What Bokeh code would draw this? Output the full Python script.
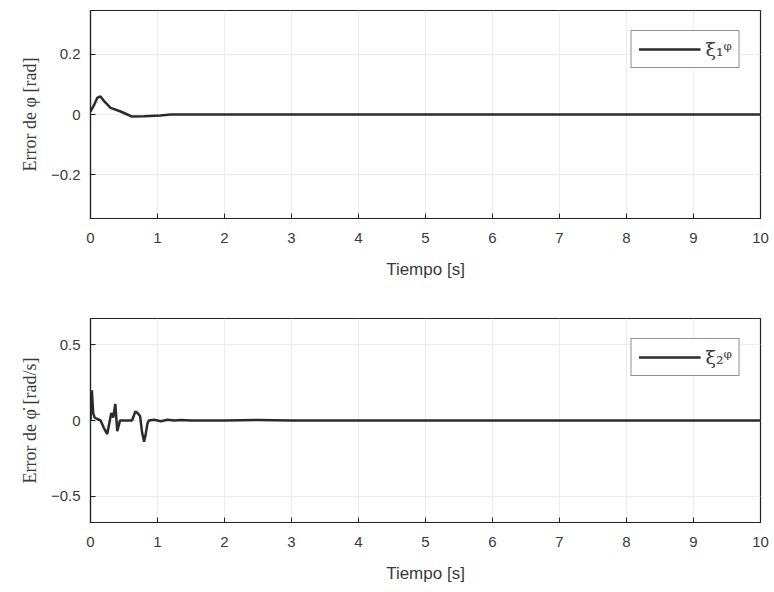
from bokeh.plotting import figure
from bokeh.layouts import column
from bokeh.models import FixedTicker, Legend, LegendItem, Range1d
from bokeh.embed import file_html
from bokeh.resources import INLINE

# ---- data ----
t1 = [0.0, 0.05, 0.1, 0.15, 0.2, 0.3, 0.45, 0.55, 0.62, 0.8, 1.04, 1.2, 2.0, 4.0, 6.0, 8.0, 10.0]
e1 = [0.01, 0.03, 0.055, 0.06, 0.045, 0.022, 0.01, 0.0, -0.007, -0.006, -0.003, 0.0, 0.0, 0.0, 0.0, 0.0, 0.0]

t2 = [0.0, 0.02, 0.04, 0.06, 0.1, 0.15, 0.2, 0.25, 0.28, 0.31, 0.34, 0.37, 0.4, 0.44, 0.47, 0.55, 0.62,
      0.67, 0.7, 0.74, 0.77, 0.8, 0.82, 0.85, 0.87, 0.95, 1.05, 1.15, 1.25, 1.35, 1.5, 2.0, 2.5, 3.0, 5.0, 10.0]
e2 = [0.0, 0.2, 0.05, 0.02, 0.01, 0.0, -0.05, -0.09, -0.02, 0.05, 0.02, 0.11, -0.07, 0.0, 0.0, 0.0, 0.0,
      0.06, 0.05, 0.03, -0.08, -0.14, -0.1, -0.02, 0.0, 0.005, -0.005, 0.005, 0.0, 0.004, 0.0, 0.0, 0.004, 0.0, 0.0, 0.0]

x_ticks = [0, 1, 2, 3, 4, 5, 6, 7, 8, 9, 10]
y1_ticks = [-0.2, 0, 0.2]
y2_ticks = [-0.5, 0, 0.5]

LINE = "#2b2b2b"
TXT = "#3a3a3a"
AX = "#222222"


def style_axis(ax):
    ax.major_tick_in = 5
    ax.major_tick_out = 0
    ax.minor_tick_line_color = None
    ax.axis_line_color = AX
    ax.axis_line_width = 1.2
    ax.major_tick_line_color = AX
    ax.major_label_text_font = "Liberation Sans"
    ax.major_label_text_font_size = "15px"
    ax.major_label_text_color = TXT
    ax.axis_label_text_font_style = "normal"
    ax.axis_label_text_color = TXT


def make_fig(t, e, yr, yticks, ylabel, leg, top, bottom):
    p = figure(width=774, height=296, output_backend="svg", toolbar_location=None,
               x_range=Range1d(0, 10), y_range=Range1d(-yr, yr),
               min_border_left=90, min_border_right=14,
               min_border_top=top, min_border_bottom=bottom)
    p.outline_line_color = AX
    p.outline_line_width = 1.2
    r = p.line(t, e, line_color=LINE, line_width=2.5)
    xa = p.xaxis[0]
    ya = p.yaxis[0]
    xa.ticker = FixedTicker(ticks=x_ticks)
    ya.ticker = FixedTicker(ticks=yticks)
    style_axis(xa)
    style_axis(ya)

    xa.axis_label = "Tiempo [s]"
    xa.axis_label_text_font = "Liberation Sans"
    xa.axis_label_text_font_size = "17px"
    xa.major_label_standoff = 14
    xa.axis_label_standoff = 14
    ya.axis_label = ylabel
    ya.axis_label_text_font = "Liberation Serif"
    ya.axis_label_text_font_size = "18px"
    ya.major_label_standoff = 10
    ya.axis_label_standoff = 8
    p.xgrid.grid_line_color = "#ececec"
    p.ygrid.grid_line_color = "#ececec"
    legend = Legend(items=[LegendItem(label=leg, renderers=[r])], location="top_right")
    legend.border_line_color = AX
    legend.border_line_width = 1.2
    legend.label_text_font = "DejaVu Serif"
    legend.label_text_font_size = "19px"
    legend.label_text_color = TXT
    legend.glyph_width = 62
    legend.margin = 20
    legend.padding = 7
    legend.background_fill_alpha = 1
    p.add_layout(legend)
    return p


p1 = make_fig(t1, e1, 0.345, y1_ticks, "Error de φ [rad]", "ξ₁ᵠ", 10, 78)
p2 = make_fig(t2, e2, 0.675, y2_ticks, "Error de φ̇ [rad/s]", "ξ₂ᵠ", 22, 70)

layout = column(p1, p2, spacing=0)
open("out.html", "w").write(file_html(layout, INLINE))
